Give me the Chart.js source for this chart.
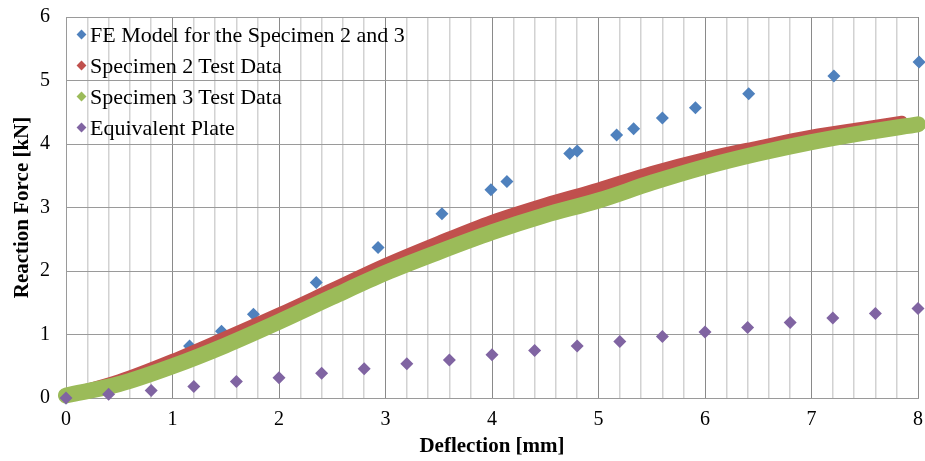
<!DOCTYPE html>
<html>
<head>
<meta charset="utf-8">
<script src="https://cdn.jsdelivr.net/npm/chart.js@4.4.0/dist/chart.umd.min.js"></script>
<style>
  html, body { margin: 0; padding: 0; background: #fff; }
  #wrap { position: relative; width: 925px; height: 461px; }
  #legend {
    position: absolute; left: 76px; top: 19px;
    font-family: 'Liberation Serif', 'Times New Roman', serif;
    font-size: 22px; color: #000;
  }
  .item { height: 31px; display: flex; align-items: center; white-space: nowrap; }
  .mark { width: 7px; height: 7px; transform: rotate(45deg); margin: 0 5px 0 2px; }
</style>
</head>
<body>
<div id="wrap">
  <canvas id="chart" width="925" height="461"></canvas>
  <div id="legend"></div>
</div>
<script>
// FE model (blue diamonds)
const feX = [0, 1.16, 1.46, 1.76, 2.35, 2.93, 3.53, 3.99, 4.14, 4.73, 4.80, 5.17, 5.33, 5.60, 5.91, 6.41, 7.21, 8.01];
const feY = [0, 0.82, 1.05, 1.32, 1.82, 2.37, 2.90, 3.28, 3.41, 3.85, 3.89, 4.14, 4.24, 4.41, 4.57, 4.79, 5.07, 5.29];

// Specimen 2 test data (red band)
const spec2X = [0, 0.5, 1, 1.5, 2, 2.5, 3, 3.5, 4, 4.5, 5, 5.5, 6, 6.5, 7, 7.5, 7.85];
const spec2Y = [0.04, 0.28, 0.60, 0.96, 1.33, 1.72, 2.11, 2.46, 2.79, 3.06, 3.30, 3.56, 3.78, 3.96, 4.13, 4.26, 4.35];

// Specimen 3 test data (green band)
const spec3X = [0, 0.5, 1, 1.5, 2, 2.5, 3, 3.5, 4, 4.5, 5, 5.5, 6, 6.5, 7, 7.5, 8];
const spec3Y = [0.04, 0.22, 0.50, 0.83, 1.20, 1.59, 1.97, 2.30, 2.61, 2.88, 3.11, 3.39, 3.64, 3.85, 4.03, 4.18, 4.31];

// Equivalent plate (purple diamonds)
const plateX = [0, 0.4, 0.8, 1.2, 1.6, 2.0, 2.4, 2.8, 3.2, 3.6, 4.0, 4.4, 4.8, 5.2, 5.6, 6.0, 6.4, 6.8, 7.2, 7.6, 8.0];
const plateY = [0, 0.06, 0.12, 0.18, 0.26, 0.32, 0.39, 0.46, 0.54, 0.60, 0.68, 0.75, 0.82, 0.89, 0.97, 1.04, 1.11, 1.19, 1.26, 1.33, 1.41];

const seriesNames = ['FE Model for the Specimen 2 and 3', 'Specimen 2 Test Data', 'Specimen 3 Test Data', 'Equivalent Plate'];
const seriesColors = ['#4F81BD', '#C0504D', '#9BBB59', '#8064A2'];

const toPts = (xs, ys) => xs.map((x, i) => ({ x: x, y: ys[i] }));
const isInt = v => Math.abs(v - Math.round(v)) < 1e-6;
const serif = "'Liberation Serif', 'Times New Roman', serif";

const ctx = document.getElementById('chart').getContext('2d');
new Chart(ctx, {
  type: 'scatter',
  data: {
    datasets: [
      {
        label: seriesNames[0], data: toPts(feX, feY), order: 3,
        pointStyle: 'rectRot', pointRadius: 6.5, backgroundColor: seriesColors[0],
        borderWidth: 0, clip: false
      },
      {
        label: seriesNames[1], data: toPts(spec2X, spec2Y), order: 2,
        showLine: true, borderColor: seriesColors[1], borderWidth: 12, pointRadius: 0,
        cubicInterpolationMode: 'monotone', borderCapStyle: 'round', borderJoinStyle: 'round', clip: false
      },
      {
        label: seriesNames[2], data: toPts(spec3X, spec3Y), order: 1,
        showLine: true, borderColor: seriesColors[2], borderWidth: 16, pointRadius: 0,
        cubicInterpolationMode: 'monotone', borderCapStyle: 'round', borderJoinStyle: 'round', clip: false
      },
      {
        label: seriesNames[3], data: toPts(plateX, plateY), order: 0,
        pointStyle: 'rectRot', pointRadius: 6.5, backgroundColor: seriesColors[3],
        borderWidth: 0, clip: false
      }
    ]
  },
  options: {
    responsive: false,
    animation: false,
    events: [],
    layout: { padding: { top: 17, right: 7, left: 0, bottom: 0 } },
    plugins: { legend: { display: false }, tooltip: { enabled: false } },
    scales: {
      x: {
        type: 'linear', min: 0, max: 8,
        afterFit: s => { s.height = 63; s.paddingLeft = 0; s.paddingRight = 0; },
        ticks: {
          stepSize: 0.2, autoSkip: false, maxRotation: 0, padding: 10,
          color: '#000', font: { family: serif, size: 20 },
          callback: v => isInt(v) ? String(Math.round(v)) : ''
        },
        grid: {
          drawTicks: false,
          color: c => isInt(c.tick.value) ? '#8a8a8a' : '#d2d2d2',
          lineWidth: c => isInt(c.tick.value) ? 1 : 1.5
        },
        border: { color: '#9a9a9a', width: 1 },
        title: { display: true, text: 'Deflection [mm]', color: '#000', padding: { top: 0, bottom: 2 }, font: { family: serif, size: 21, weight: 'bold' } }
      },
      y: {
        type: 'linear', min: 0, max: 6,
        afterFit: s => { s.width = 66; s.paddingTop = 0; s.paddingBottom = 0; },
        ticks: {
          stepSize: 1, padding: 16,
          color: '#000', font: { family: serif, size: 20 }
        },
        grid: { drawTicks: false, color: '#9a9a9a', lineWidth: 1 },
        border: { color: '#9a9a9a', width: 1 },
        title: { display: true, text: 'Reaction Force [kN]', color: '#000', padding: { top: 10, bottom: 0 }, font: { family: serif, size: 21, weight: 'bold' } }
      }
    }
  }
});

// legend drawn inside the plot area, as in the original
const legend = document.getElementById('legend');
seriesNames.forEach((name, i) => {
  const row = document.createElement('div');
  row.className = 'item';
  const m = document.createElement('span');
  m.className = 'mark';
  m.style.background = seriesColors[i];
  row.appendChild(m);
  row.appendChild(document.createTextNode(name));
  legend.appendChild(row);
});
</script>
</body>
</html>
